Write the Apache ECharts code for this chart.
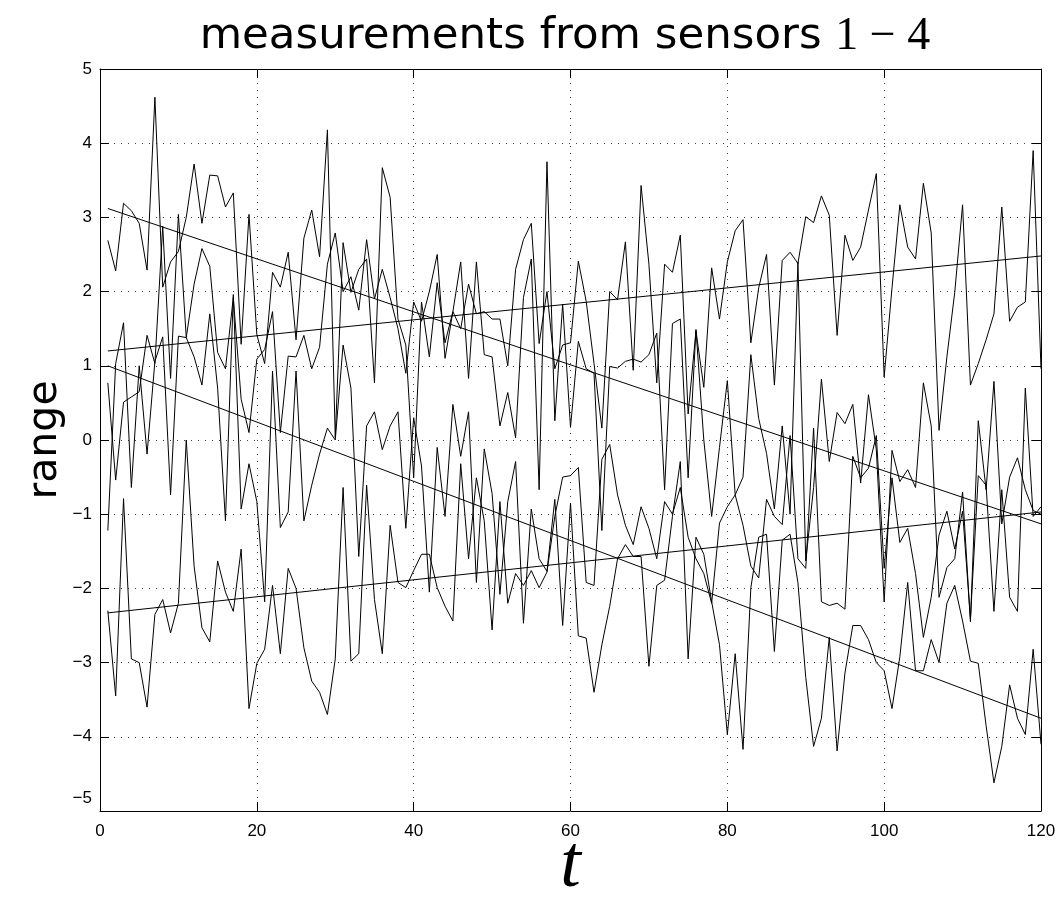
<!DOCTYPE html>
<html><head><meta charset="utf-8">
<script src="https://cdn.jsdelivr.net/npm/echarts/dist/echarts.min.js"></script>
<style>html,body{margin:0;padding:0;background:#fff}#c{width:1063px;height:901px}</style>
</head><body><div id="c"></div>
<script>
// x positions: t = 1..120
const tStart = 1;
const sensorA = [
 2.69, 2.28, 3.19, 3.09, 2.92, 2.29, 4.62, 2.06, 2.40, 2.54, 3.00, 3.72,
 2.92, 3.57, 3.56, 3.14, 3.33, 1.29, 3.04, 1.42, 1.03, 2.26, 2.06, 2.53,
 1.35, 2.72, 3.10, 2.47, 4.18, 0.03, 2.66, 1.99, 2.30, 2.44, 0.77, 3.67,
 3.27, 1.63, 1.28, -0.51, 1.86, 1.12, 2.12, 1.31, 1.73, 2.40, 0.83, 2.40,
 1.15, 1.12, 0.19, 0.64, 0.03, 1.92, 2.44, -0.67, 3.75, 0.26, 1.83, 0.17,
 1.33, 0.96, 0.90, -1.22, 0.99, 0.97, 1.06, 1.09, 1.05, 1.15, 1.44, -0.67,
 1.57, 1.63, -0.51, 1.49, 0.00, -1.03, -0.10, 0.80, -0.74, -0.50, 1.15, 0.29,
 -0.18, -0.93, 0.19, -1.00, 2.40, -1.63, -0.64, 0.82, -0.29, 0.37, 0.22, 0.48,
 -0.58, 0.61, -0.13, -2.18, -0.14, -0.56, -0.40, -0.64, 0.77, 0.19, -2.12, -1.72,
 -1.60, -0.70, -2.45, 0.26, -0.67, 0.79, -1.13, -0.50, -0.24, -0.67, -0.95, -1.00
];
const sensorB = [
 0.77, -0.54, 0.51, 0.58, 0.65, 1.41, 1.03, 2.88, 0.83, 3.04, 1.38, 2.10,
 2.58, 2.34, 1.18, 0.96, 1.92, 0.55, 0.10, 1.09, 1.22, 1.73, 0.10, 1.13,
 1.12, 1.41, 0.96, 1.25, 2.37, 2.79, 2.00, 2.20, 1.75, 2.70, 1.90, 2.30,
 1.92, 1.50, 0.90, 1.86, 1.60, 2.00, 2.50, 1.10, 1.73, 1.50, 2.10, 1.70,
 1.73, 1.63, 1.63, 1.00, 2.30, 2.70, 2.92, 1.30, 2.00, 0.96, 1.28, 1.31,
 2.41, 1.87, 1.03, 0.16, 2.00, 1.89, 2.67, 0.94, 3.43, 2.37, 0.77, 2.37,
 2.26, 2.76, 0.35, 1.47, 0.71, 2.32, 1.63, 2.40, 2.82, 2.97, 1.31, 2.05,
 2.50, 0.74, 2.42, 2.53, 2.38, 3.01, 2.93, 3.29, 3.03, 1.41, 2.76, 2.42,
 2.60, 3.10, 3.59, 0.85, 2.05, 3.17, 2.60, 2.44, 3.46, 2.79, 0.13, 1.12,
 1.99, 3.17, 0.74, 1.03, 1.35, 1.70, 3.14, 1.60, 1.79, 1.86, 3.90, 0.96
];
const sensorC = [
 -1.22, 1.03, 1.58, -0.64, 1.00, -0.19, 1.06, 1.39, -0.74, 1.40, 1.38, 1.12,
 0.74, 1.70, 0.70, -1.09, 1.96, -0.93, -0.32, -0.83, -2.18, 0.93, -1.18, -0.97,
 0.93, -1.09, -0.61, -0.19, 0.16, 0.00, 1.28, 0.70, -1.57, 0.19, 0.38, -0.13,
 0.19, 0.38, -1.19, 0.30, -0.35, -2.05, -0.10, -1.03, 0.48, -0.22, 0.38, -1.92,
 -0.12, -0.72, -2.08, -0.83, -0.29, -2.47, -0.93, -1.60, -1.77, -0.80, -2.50, -0.85,
 -2.64, -2.67, -3.40, -2.76, -2.24, -1.60, -1.41, -1.57, -1.57, -3.05, -1.96, -1.89,
 -1.03, -0.29, -2.95, -1.31, -1.54, -2.18, -2.76, -3.97, -2.88, -4.17, -1.99, -1.31,
 -1.27, -2.85, -1.35, -1.27, -1.92, -3.20, -4.13, -3.75, -2.66, -4.19, -3.14, -2.50,
 -2.50, -2.69, -3.00, -3.11, -3.62, -2.92, -1.92, -3.11, -3.11, -2.69, -3.00, -2.20,
 -1.96, -2.44, -2.98, -3.01, -3.85, -4.62, -4.13, -3.30, -3.75, -3.97, -2.82, -4.10
];
const sensorD = [
 -2.30, -3.45, -0.79, -2.95, -3.00, -3.60, -2.35, -2.15, -2.60, -2.20, 0.00, -1.70,
 -2.53, -2.72, -1.63, -2.05, -2.31, -1.47, -3.62, -3.01, -2.82, -1.96, -2.88, -1.73,
 -2.00, -2.80, -3.25, -3.40, -3.70, -2.95, -0.64, -2.98, -2.88, -0.61, -2.15, -2.88,
 -1.15, -1.92, -1.99, -1.76, -1.54, -1.54, -1.99, -2.24, -2.44, -0.32, -1.60, -0.51,
 -1.09, -2.56, -0.83, -2.20, -1.80, -1.96, -1.76, -1.99, -1.78, -1.03, -0.50, -0.48,
 -0.37, -1.92, -1.96, -0.26, -0.06, -0.74, -1.15, -1.41, -0.90, -1.19, -1.60, -0.83,
 -1.00, -0.64, -1.31, -1.60, -1.80, -2.20, -1.12, -0.90, -0.74, -1.15, -1.70, -1.86,
 -0.80, -1.03, -1.14, 0.06, -1.60, -1.73, 0.16, -2.18, -2.23, -2.20, -2.28, -0.22,
 -0.51, -0.38, 0.06, -1.73, -0.51, -1.38, -1.19, -1.80, -2.66, -2.12, -1.28, -0.96,
 -1.47, -0.96, -2.41, -0.48, -0.61, -2.31, -0.67, -2.12, -2.31, 0.70, -1.03, -0.90
];
// fitted trend lines: [t, value] endpoints
const trendA = [[1, 3.12], [120, -1.13]];
const trendB = [[1, 1.20], [120, 2.48]];
const trendC = [[1, 1.00], [120, -3.75]];
const trendD = [[1, -2.33], [120, -0.97]];
const xTicks = [0, 20, 40, 60, 80, 100, 120];
const yTicks = [-5, -4, -3, -2, -1, 0, 1, 2, 3, 4, 5];

function pairs(arr) { return arr.map((v, i) => [tStart + i, v]); }
const fmtY = v => {
  const s = v < 0 ? '\u2212' + (-v) : String(v);
  return v === yTicks[0] ? '{low|' + s + '}' : s;
};

const chart = echarts.init(document.getElementById('c'), null, {renderer: 'canvas'});
const dotted = {color: '#000', width: 1, type: [1, 6], opacity: 0.75};
const tickFont = {color: '#000', fontSize: 17, fontFamily: 'Liberation Sans, Arial, sans-serif'};
const lineSeries = (data) => ({
  type: 'line', data: data, xAxisIndex: 0, yAxisIndex: 0, showSymbol: false, symbol: 'none',
  lineStyle: {color: '#000', width: 1}, silent: true, animation: false
});
chart.setOption({
  animation: false,
  backgroundColor: '#fff',
  title: {
    text: '{a|measurements from sensors }{b|1 \u2212 4}',
    left: 560, top: 9, textAlign: 'center',
    textStyle: {fontWeight: 'normal', rich: {
      a: {fontFamily: 'DejaVu Sans', fontSize: 43.5, fontWeight: 'normal', color: '#000'},
      b: {fontFamily: 'Liberation Serif', fontSize: 46, fontWeight: 'normal', color: '#000'}
    }}
  },
  grid: {left: 100, right: 22, top: 69, bottom: 90, show: false, outerBoundsMode: 'none', containLabel: false},
  xAxis: [{
    type: 'value', min: xTicks[0], max: xTicks[xTicks.length - 1], interval: 20, position: 'bottom',
    axisLine: {show: true, onZero: false, lineStyle: {color: '#000', width: 1}},
    axisTick: {show: true, inside: true, length: 9, lineStyle: {color: '#000'}},
    axisLabel: Object.assign({margin: 12, formatter: v => String(v)}, tickFont),
    splitLine: {show: true, lineStyle: dotted},
    name: 't', nameLocation: 'middle', nameGap: 19, nameMoveOverlap: false,
    nameTextStyle: {fontFamily: 'Liberation Serif', fontStyle: 'italic', fontSize: 74, color: '#000'}
  }, {
    type: 'value', min: xTicks[0], max: xTicks[xTicks.length - 1], interval: 20, position: 'top',
    axisLine: {show: true, onZero: false, lineStyle: {color: '#000', width: 1}},
    axisTick: {show: true, inside: true, length: 9, lineStyle: {color: '#000'}},
    axisLabel: {show: false}, splitLine: {show: false}
  }],
  yAxis: [{
    type: 'value', min: yTicks[0], max: yTicks[yTicks.length - 1], interval: 1, position: 'left',
    axisLine: {show: true, onZero: false, lineStyle: {color: '#000', width: 1}},
    axisTick: {show: true, inside: true, length: 9, lineStyle: {color: '#000'}},
    axisLabel: Object.assign({margin: 8, formatter: fmtY,
      rich: {low: {fontSize: 17, fontFamily: 'Liberation Sans, Arial, sans-serif', color: '#000', padding: [0, 0, 26, 0]}}}, tickFont),
    splitLine: {show: true, lineStyle: dotted},
    name: 'range', nameLocation: 'middle', nameGap: 34, nameRotate: 90, nameMoveOverlap: false,
    nameTextStyle: {fontFamily: 'DejaVu Sans', fontSize: 41, color: '#000'}
  }, {
    type: 'value', min: yTicks[0], max: yTicks[yTicks.length - 1], interval: 1, position: 'right',
    axisLine: {show: true, onZero: false, lineStyle: {color: '#000', width: 1}},
    axisTick: {show: true, inside: true, length: 9, lineStyle: {color: '#000'}},
    axisLabel: {show: false}, splitLine: {show: false}
  }],
  series: [
    lineSeries(pairs(sensorA)), lineSeries(pairs(sensorB)),
    lineSeries(pairs(sensorC)), lineSeries(pairs(sensorD)),
    lineSeries(trendA), lineSeries(trendB), lineSeries(trendC), lineSeries(trendD)
  ]
});
</script></body></html>
